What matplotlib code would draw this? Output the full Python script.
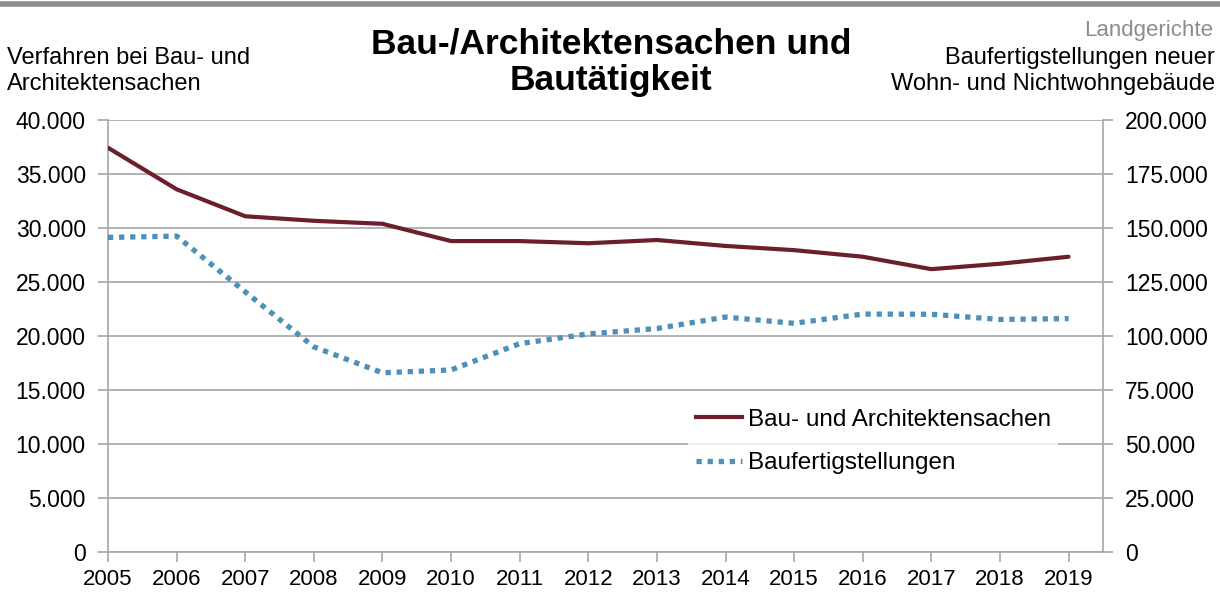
import matplotlib.pyplot as plt
from matplotlib.ticker import FuncFormatter, MultipleLocator
from matplotlib.lines import Line2D

plt.rcParams['font.family'] = ['Liberation Sans', 'DejaVu Sans']

# data
years = [2005, 2006, 2007, 2008, 2009, 2010, 2011, 2012, 2013, 2014, 2015, 2016, 2017, 2018, 2019]
bau_verfahren = [37450, 33600, 31100, 30680, 30400, 28800, 28800, 28600, 28900, 28350, 27960, 27350, 26200, 26700, 27350]
baufertig = [145700, 146300, 120500, 95000, 83000, 84300, 96500, 101000, 103500, 108800, 105900, 110200, 110100, 107700, 108100]

red = '#6a1f2b'
blue = '#4f90b8'
grid_c = '#a6a6a6'


def dotted(v, pos):
    return f"{int(v):,}".replace(',', '.')


fig = plt.figure(figsize=(12.2, 5.92), dpi=100)
ax = fig.add_axes([0.0885, 0.0676, 0.8155, 0.7294])
ax2 = ax.twinx()

ax.plot(years, bau_verfahren, color=red, lw=3.0, solid_capstyle='round', zorder=3)
ax2.plot(years, baufertig, color=blue, lw=3.8, linestyle=(0, (1, 1.1)), dash_capstyle='butt', zorder=3)

ax.set_xlim(2005, 2019.5)
ax.set_ylim(0, 40000)
ax2.set_ylim(0, 200000)
ax.yaxis.set_major_locator(MultipleLocator(5000))
ax2.yaxis.set_major_locator(MultipleLocator(25000))
ax.yaxis.set_major_formatter(FuncFormatter(dotted))
ax2.yaxis.set_major_formatter(FuncFormatter(dotted))
ax.set_xticks(years)

ax.grid(axis='y', color=grid_c, lw=1.2)
ax.set_axisbelow(True)
for a in (ax, ax2):
    for s in a.spines.values():
        s.set_visible(False)
ax.spines['left'].set_visible(True)
ax.spines['bottom'].set_visible(True)
ax2.spines['right'].set_visible(True)
for s in (ax.spines['left'], ax.spines['bottom'], ax2.spines['right']):
    s.set_color(grid_c)
    s.set_linewidth(1.2)

ax.tick_params(axis='y', length=7, width=1.2, color=grid_c, labelsize=16.5, pad=9)
ax.tick_params(axis='x', length=7, width=1.2, color=grid_c, labelsize=16, pad=5)
ax2.tick_params(axis='y', length=7, width=1.2, color=grid_c, labelsize=16.5, pad=9)

# legend
handles = [Line2D([], [], color=red, lw=3.0),
           Line2D([], [], color=blue, lw=3.8, linestyle=(0, (1, 1.1)), dash_capstyle='butt')]
leg = ax2.legend(handles, ['Bau- und Architektensachen', 'Baufertigstellungen'],
                 loc='center left', bbox_to_anchor=(0.571, 0.256), frameon=True,
                 fontsize=17.5, handlelength=1.9, handletextpad=0.25, labelspacing=0.9,
                 borderpad=0.3, fancybox=False)
leg.get_frame().set_facecolor('white')
leg.get_frame().set_edgecolor('none')

# texts
fig.text(0.501, 0.895, 'Bau-/Architektensachen und\nBautätigkeit', ha='center', va='center',
         fontsize=25.5, fontweight='bold', linespacing=1.12)
fig.text(0.006, 0.88, 'Verfahren bei Bau- und\nArchitektensachen', ha='left', va='center',
         fontsize=17, linespacing=1.19)
fig.text(0.996, 0.88, 'Baufertigstellungen neuer\nWohn- und Nichtwohngebäude', ha='right', va='center',
         fontsize=17, linespacing=1.19)
fig.text(0.994, 0.949, 'Landgerichte', ha='right', va='center', fontsize=16, color='#8c8c8c')

# gray rule at the top
fig.add_artist(Line2D([0, 1], [0.993, 0.993], transform=fig.transFigure, color='#8c8c8c', lw=4))

fig.savefig('out.png', dpi=100)
